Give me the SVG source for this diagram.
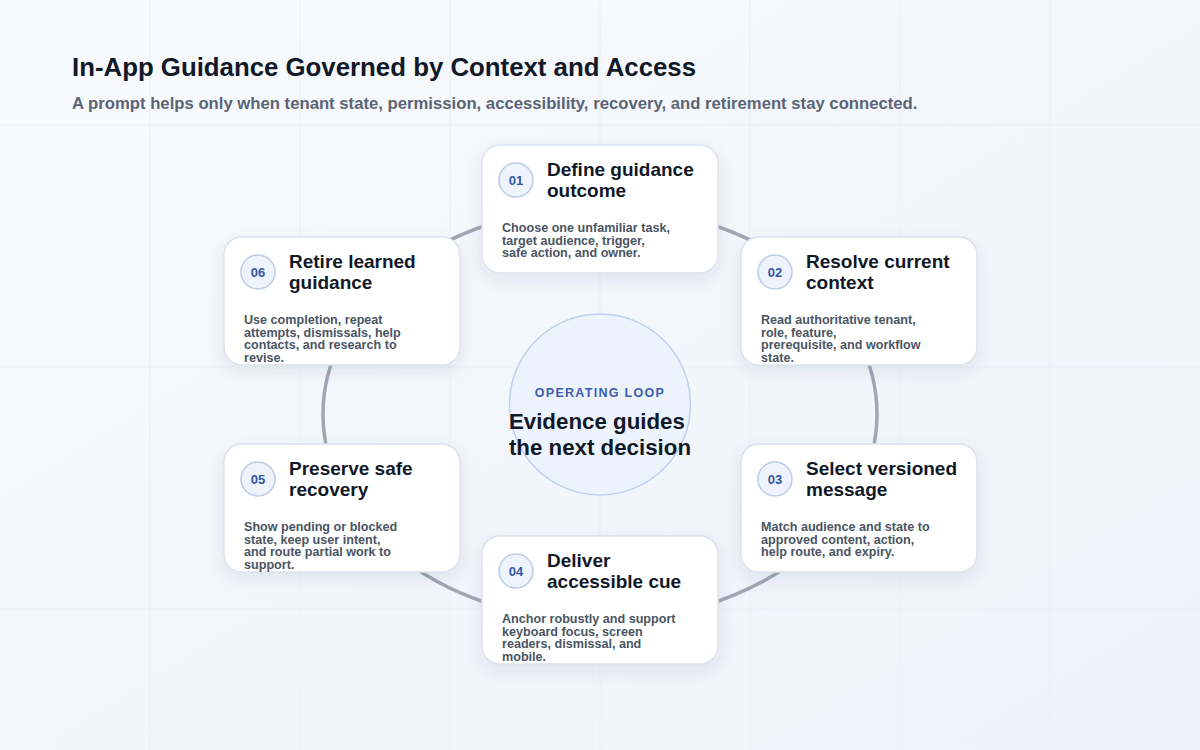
<svg xmlns="http://www.w3.org/2000/svg" width="1200" height="750" viewBox="0 0 1200 750">
  <defs>
    <linearGradient id="bg" x1="0" y1="0" x2="1" y2="1">
      <stop offset="0" stop-color="#f8fafd"/>
      <stop offset="1" stop-color="#eef2fa"/>
    </linearGradient>
    <filter id="shadow" x="-20%" y="-20%" width="140%" height="150%">
      <feDropShadow dx="0" dy="6" stdDeviation="8" flood-color="#1e2a4a" flood-opacity="0.09"/>
    </filter>
    <clipPath id="cardclip">
      <rect x="0" y="0" width="236" height="128" rx="18"/>
    </clipPath>
    <style>
      .grid { stroke: #ebeff6; stroke-width: 1; }
      .card { fill: #ffffff; stroke: #dce2ed; stroke-width: 1.5; filter: url(#shadow); }
      .num { fill: #eef3fd; stroke: #bccbe6; stroke-width: 1.5; }
      .numt { font-family: "Liberation Sans", Arial, sans-serif; font-size: 13px; font-weight: 700; fill: #3556a6; text-anchor: middle; }
      .title { font-family: "Liberation Sans", Arial, sans-serif; font-size: 19px; font-weight: 700; fill: #111827; }
      .body { font-family: "Liberation Sans", Arial, sans-serif; font-size: 12.6px; font-weight: 700; fill: #4b5563; }
      .ring { fill: none; stroke: #a0a6b4; stroke-width: 3.5; }
    </style>
  </defs>

  <rect width="1200" height="750" fill="url(#bg)"/>
  <g id="grid">
    <line class="grid" x1="150" y1="0" x2="150" y2="750"/>
    <line class="grid" x1="300" y1="0" x2="300" y2="750"/>
    <line class="grid" x1="450" y1="0" x2="450" y2="750"/>
    <line class="grid" x1="600" y1="0" x2="600" y2="750"/>
    <line class="grid" x1="750" y1="0" x2="750" y2="750"/>
    <line class="grid" x1="900" y1="0" x2="900" y2="750"/>
    <line class="grid" x1="1050" y1="0" x2="1050" y2="750"/>
    <line class="grid" x1="0" y1="125" x2="1200" y2="125"/>
    <line class="grid" x1="0" y1="367" x2="1200" y2="367"/>
    <line class="grid" x1="0" y1="609" x2="1200" y2="609"/>
  </g>

  <g id="header">
    <text x="72" y="76" font-family="Liberation Sans, Arial, sans-serif" font-size="25.8" font-weight="700" fill="#111827">In-App Guidance Governed by Context and Access</text>
    <text x="72" y="109" font-family="Liberation Sans, Arial, sans-serif" font-size="16.7" font-weight="700" fill="#5b6475">A prompt helps only when tenant state, permission, accessibility, recovery, and retirement stay connected.</text>
  </g>

  <g id="connectors">
    <ellipse class="ring" cx="600" cy="414" rx="277" ry="207"/>
  </g>

  <g id="center">
    <circle cx="600" cy="404.5" r="90.5" fill="#edf3fd" stroke="#bfd0ee" stroke-width="1.5"/>
    <text x="600" y="397" text-anchor="middle" font-family="Liberation Sans, Arial, sans-serif" font-size="12.5" font-weight="700" letter-spacing="1.3" fill="#3b5cb0">OPERATING LOOP</text>
    <text text-anchor="middle" font-family="Liberation Sans, Arial, sans-serif" font-size="22.3" font-weight="700" fill="#111827">
      <tspan x="600" y="428.5">Evidence guides</tspan>
      <tspan x="600" y="455">the next decision</tspan>
    </text>
  </g>

  <g id="node-01" transform="translate(482,145)">
    <rect class="card" width="236" height="128" rx="18"/>
    <circle class="num" cx="34" cy="35" r="17"/>
    <text class="numt" x="34" y="39.5">01</text>
    <text class="title"><tspan x="65" y="31">Define guidance</tspan><tspan x="65" y="52">outcome</tspan></text>
    <text class="body" clip-path="url(#cardclip)"><tspan x="20" y="87">Choose one unfamiliar task,</tspan><tspan x="20" y="99.6">target audience, trigger,</tspan><tspan x="20" y="112.2">safe action, and owner.</tspan></text>
  </g>

  <g id="node-02" transform="translate(741,237)">
    <rect class="card" width="236" height="128" rx="18"/>
    <circle class="num" cx="34" cy="35" r="17"/>
    <text class="numt" x="34" y="39.5">02</text>
    <text class="title"><tspan x="65" y="31">Resolve current</tspan><tspan x="65" y="52">context</tspan></text>
    <text class="body" clip-path="url(#cardclip)"><tspan x="20" y="87">Read authoritative tenant,</tspan><tspan x="20" y="99.6">role, feature,</tspan><tspan x="20" y="112.2">prerequisite, and workflow</tspan><tspan x="20" y="124.8">state.</tspan></text>
  </g>

  <g id="node-03" transform="translate(741,444)">
    <rect class="card" width="236" height="128" rx="18"/>
    <circle class="num" cx="34" cy="35" r="17"/>
    <text class="numt" x="34" y="39.5">03</text>
    <text class="title"><tspan x="65" y="31">Select versioned</tspan><tspan x="65" y="52">message</tspan></text>
    <text class="body" clip-path="url(#cardclip)"><tspan x="20" y="87">Match audience and state to</tspan><tspan x="20" y="99.6">approved content, action,</tspan><tspan x="20" y="112.2">help route, and expiry.</tspan></text>
  </g>

  <g id="node-04" transform="translate(482,536)">
    <rect class="card" width="236" height="128" rx="18"/>
    <circle class="num" cx="34" cy="35" r="17"/>
    <text class="numt" x="34" y="39.5">04</text>
    <text class="title"><tspan x="65" y="31">Deliver</tspan><tspan x="65" y="52">accessible cue</tspan></text>
    <text class="body" clip-path="url(#cardclip)"><tspan x="20" y="87">Anchor robustly and support</tspan><tspan x="20" y="99.6">keyboard focus, screen</tspan><tspan x="20" y="112.2">readers, dismissal, and</tspan><tspan x="20" y="124.8">mobile.</tspan></text>
  </g>

  <g id="node-05" transform="translate(224,444)">
    <rect class="card" width="236" height="128" rx="18"/>
    <circle class="num" cx="34" cy="35" r="17"/>
    <text class="numt" x="34" y="39.5">05</text>
    <text class="title"><tspan x="65" y="31">Preserve safe</tspan><tspan x="65" y="52">recovery</tspan></text>
    <text class="body" clip-path="url(#cardclip)"><tspan x="20" y="87">Show pending or blocked</tspan><tspan x="20" y="99.6">state, keep user intent,</tspan><tspan x="20" y="112.2">and route partial work to</tspan><tspan x="20" y="124.8">support.</tspan></text>
  </g>

  <g id="node-06" transform="translate(224,237)">
    <rect class="card" width="236" height="128" rx="18"/>
    <circle class="num" cx="34" cy="35" r="17"/>
    <text class="numt" x="34" y="39.5">06</text>
    <text class="title"><tspan x="65" y="31">Retire learned</tspan><tspan x="65" y="52">guidance</tspan></text>
    <text class="body" clip-path="url(#cardclip)"><tspan x="20" y="87">Use completion, repeat</tspan><tspan x="20" y="99.6">attempts, dismissals, help</tspan><tspan x="20" y="112.2">contacts, and research to</tspan><tspan x="20" y="124.8">revise.</tspan></text>
  </g>
</svg>
